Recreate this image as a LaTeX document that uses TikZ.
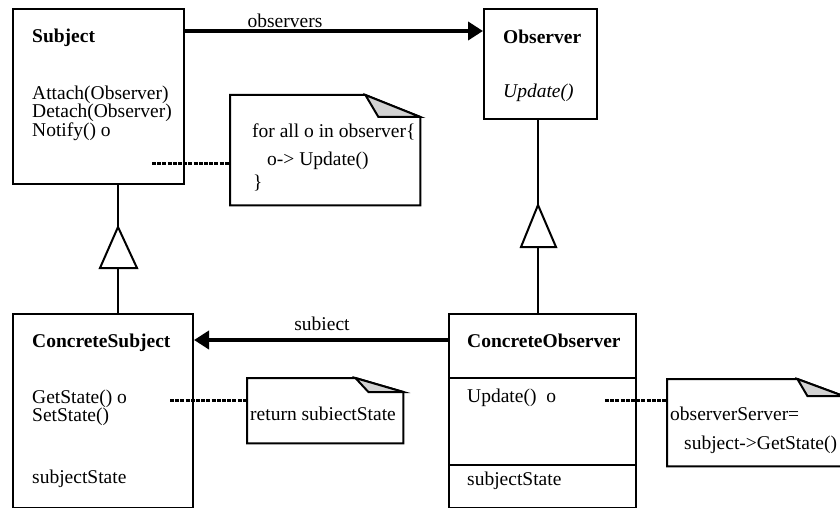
\documentclass[tikz,border=0pt]{standalone}
\usepackage{fontspec}
\setmainfont{Liberation Serif}
\usetikzlibrary{arrows.meta,calc}

\begin{document}
\begin{tikzpicture}[x=1pt,y=-1pt,
  cls/.style={draw,line width=2pt,anchor=north west,inner sep=0pt},
  box/.style={anchor=north west,inner sep=0pt},
  txt/.style={anchor=base west,inner sep=0pt,font=\fontsize{19.5}{22}\selectfont},
  ops/.style={anchor=north west,inner sep=0pt,align=left,font=\fontsize{19.5}{17}\selectfont},
  title/.style={anchor=base west,inner sep=0pt,font=\fontsize{19.5}{22}\selectfont\bfseries},
  lbl/.style={anchor=base,inner sep=0pt,font=\fontsize{19.5}{22}\selectfont},
  assoc/.style={line width=4pt,-{Triangle[length=15pt,width=18pt]}},
  inherit/.style={line width=2pt},
  hollow/.style={draw,line width=2pt,fill=white,line join=miter},
  link/.style={line width=3pt,dash pattern=on 4pt off 1.2pt},
  note/.style={draw,line width=2pt,fill=white,line join=miter},
  fold/.style={draw,line width=2pt,fill=gray!35,line join=miter}
]
\clip (0,0) rectangle (840,508);

% class boxes
\node[cls,minimum width=171pt,minimum height=175pt] (subject) at (12,8) {};
\node[cls,minimum width=113pt,minimum height=110pt] (observer) at (483,8) {};
\node[cls,minimum width=180pt,minimum height=194pt] (csubject) at (12,313) {};
\node[cls,minimum width=187pt,minimum height=194pt] (cobserver) at (448,313) {};
\draw[line width=2pt] ($(cobserver.north west)+(0,65)$) -- ($(cobserver.north east)+(0,65)$);
\draw[line width=2pt] ($(cobserver.north west)+(0,152)$) -- ($(cobserver.north east)+(0,152)$);

% class texts
\node[title] (subjectname) at (32,43) {Subject};
\node[ops] (subjectops) at (32,85.5) {Attach(Observer)\\Detach(Observer)\\Notify() o};

\node[title] (observername) at (503,44) {Observer};
\node[txt,font=\fontsize{19.5}{22}\selectfont\itshape] (update) at (503,98) {Update()};

\node[title] (csubjectname) at (32,347) {ConcreteSubject};
\node[ops] (csubjectops) at (32,389.5) {GetState() o\\SetState()};
\node[txt] (csstate) at (32,483) {subjectState};

\node[title] (cobservername) at (467,347) {ConcreteObserver};
\node[txt] (coupdate) at (467,402) {Update()~~o};
\node[txt] (costate) at (467,485) {subjectState};

% notes
\node[box,minimum width=190pt,minimum height=110pt] (note1) at (230,95) {};
\node[box,minimum width=156pt,minimum height=65pt] (note2) at (247,378) {};
\node[box,minimum width=176pt,minimum height=87pt] (note3) at (667,379) {};

% dotted links from operations to notes
\coordinate (notifyend) at (152,163);
\coordinate (getstateend) at (170,400);
\coordinate (updateend) at (605,400);
\draw[link] (notifyend) -- (note1.west |- notifyend);
\draw[link] (getstateend) -- (note2.west |- getstateend);
\draw[link] (updateend) -- (note3.west |- updateend);

\draw[note] (note1.north west) -- ($(note1.north east)+(-55,0)$) -- ($(note1.north east)+(0,22)$)
  -- (note1.south east) -- (note1.south west) -- cycle;
\draw[fold] ($(note1.north east)+(-55,0)$) -- ($(note1.north east)+(-42,22)$) -- ($(note1.north east)+(0,22)$) -- cycle;

\draw[note] (note2.north west) -- ($(note2.north east)+(-48,0)$) -- ($(note2.north east)+(0,14)$)
  -- (note2.south east) -- (note2.south west) -- cycle;
\draw[fold] ($(note2.north east)+(-48,0)$) -- ($(note2.north east)+(-35,14)$) -- ($(note2.north east)+(0,14)$) -- cycle;

\draw[note] (note3.north west) -- ($(note3.north east)+(-46,0)$) -- ($(note3.north east)+(0,17)$)
  -- (note3.south east) -- (note3.south west) -- cycle;
\draw[fold] ($(note3.north east)+(-46,0)$) -- ($(note3.north east)+(-36,17)$) -- ($(note3.north east)+(0,17)$) -- cycle;

\node[txt] (loop) at (252,138) {for all o in observer\{};
\node[txt] (call) at (267,165) {o-> Update()};
\node[txt] (close) at (253,188) {\}};
\node[txt] (ret) at (250,420) {return subiectState};
\node[txt] (assign) at (670,420) {observerServer=};
\node[txt] (getcall) at (684,449) {subject->GetState()};

% associations
\draw[assoc] ($(subject.north east)+(0,23)$) -- ($(observer.north west)+(0,23)$);
\node[lbl] (observerslbl) at (285,28) {observers};
\draw[assoc] ($(cobserver.north west)+(0,27)$) -- ($(csubject.north east)+(0,27)$);
\node[lbl] (subjectlbl) at (322,330) {subiect};

% generalizations
\draw[inherit] ($(subject.south west)+(106,0)$) -- ($(csubject.north west)+(106,0)$);
\draw[hollow] (118,227) -- (137,268) -- (100,268) -- cycle;
\draw[inherit] ($(observer.south west)+(55,0)$) -- ($(cobserver.north west)+(90,0)$);
\draw[hollow] (538,205) -- (556,247) -- (521,247) -- cycle;
\end{tikzpicture}
\end{document}
